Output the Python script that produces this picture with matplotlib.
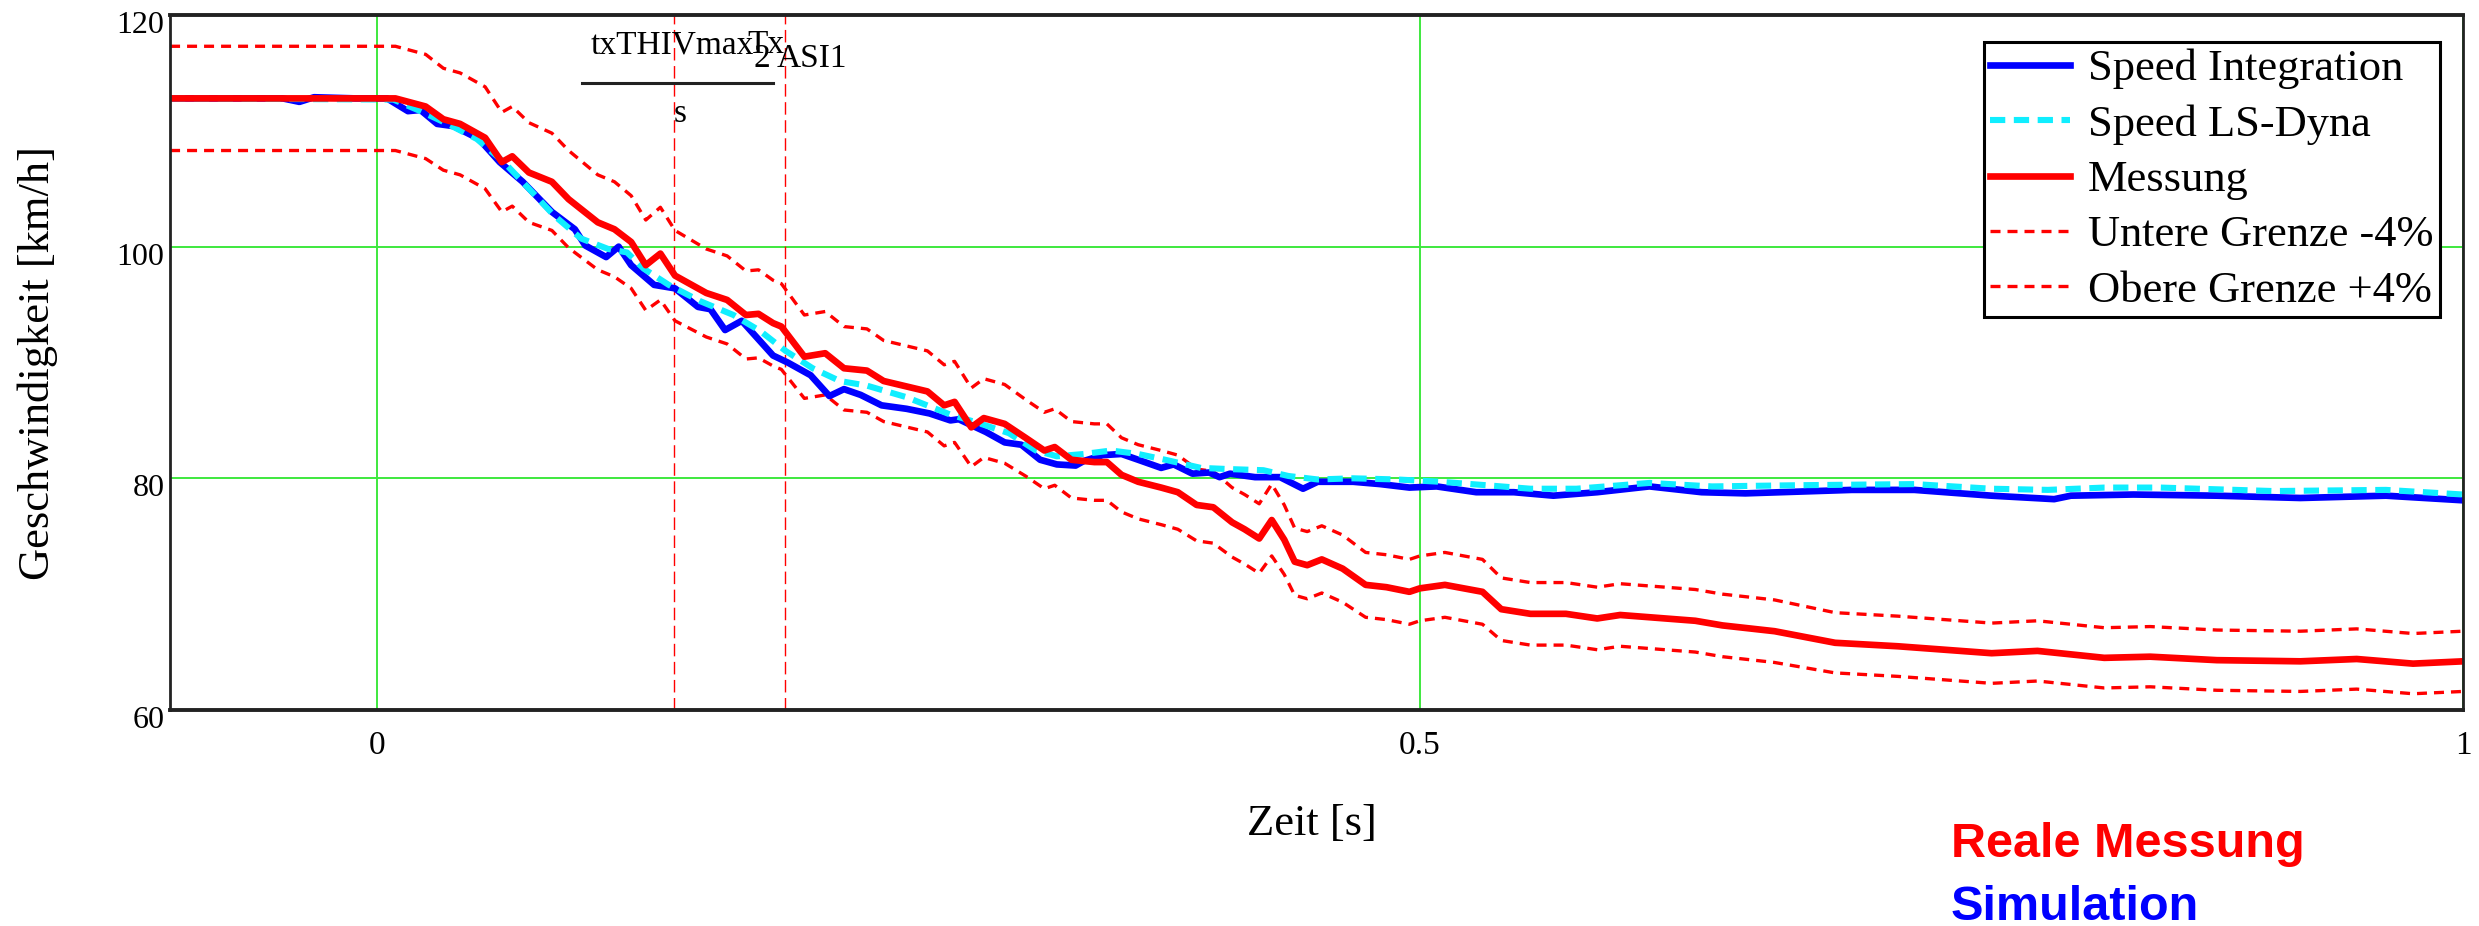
import matplotlib.pyplot as plt
import matplotlib.transforms as mtransforms
import numpy as np

# -----------------------------
# Daten
# -----------------------------
t_mess = [-0.099, 0.000, 0.009, 0.0235, 0.032, 0.040, 0.052, 0.060, 0.065, 0.073,
          0.084, 0.092, 0.106, 0.114, 0.122, 0.129, 0.136, 0.143, 0.158, 0.168,
          0.177, 0.183, 0.190, 0.194, 0.205, 0.215, 0.224, 0.235, 0.243, 0.264,
          0.272, 0.277, 0.285, 0.291, 0.301, 0.311, 0.320, 0.325, 0.333, 0.344,
          0.350, 0.357, 0.365, 0.376, 0.384, 0.393, 0.401, 0.410, 0.416, 0.423,
          0.429, 0.435, 0.440, 0.446, 0.453, 0.463, 0.474, 0.484, 0.495, 0.500,
          0.512, 0.530, 0.539, 0.553, 0.570, 0.585, 0.596, 0.632, 0.645, 0.670,
          0.699, 0.729, 0.774, 0.796, 0.828, 0.850, 0.882, 0.922, 0.949, 0.976,
          1.000]
v_mess = [112.8, 112.8, 112.8, 112.1, 111.0, 110.6, 109.4, 107.3, 107.8, 106.4,
          105.6, 104.1, 102.1, 101.5, 100.4, 98.4, 99.4, 97.5, 96.0, 95.4,
          94.1, 94.2, 93.4, 93.1, 90.5, 90.8, 89.5, 89.3, 88.4, 87.5,
          86.3, 86.6, 84.4, 85.2, 84.7, 83.5, 82.4, 82.7, 81.6, 81.4,
          81.4, 80.3, 79.7, 79.2, 78.8, 77.7, 77.5, 76.2, 75.6, 74.8,
          76.4, 74.7, 72.8, 72.5, 73.0, 72.2, 70.8, 70.6, 70.2, 70.5,
          70.8, 70.2, 68.7, 68.3, 68.3, 67.9, 68.2, 67.7, 67.3, 66.8,
          65.8, 65.5, 64.9, 65.1, 64.5, 64.6, 64.3, 64.2, 64.4, 64.0,
          64.2]
v_untere = [108.3, 108.3, 108.3, 107.6, 106.6, 106.2, 105.0, 103.0, 103.5, 102.1,
            101.4, 99.9, 98.0, 97.4, 96.4, 94.5, 95.4, 93.6, 92.2, 91.6,
            90.3, 90.4, 89.7, 89.4, 86.9, 87.2, 85.9, 85.7, 84.9, 84.0,
            82.8, 83.1, 81.0, 81.8, 81.3, 80.2, 79.1, 79.4, 78.3, 78.1,
            78.1, 77.1, 76.5, 76.0, 75.6, 74.6, 74.4, 73.2, 72.6, 71.8,
            73.3, 71.7, 69.9, 69.6, 70.1, 69.3, 68.0, 67.8, 67.4, 67.7,
            68.0, 67.4, 66.0, 65.6, 65.6, 65.2, 65.5, 65.0, 64.6, 64.1,
            63.2, 62.9, 62.3, 62.5, 61.9, 62.0, 61.7, 61.6, 61.8, 61.4,
            61.6]
v_obere = [117.3, 117.3, 117.3, 116.6, 115.4, 115.0, 113.8, 111.6, 112.1, 110.7,
           109.8, 108.3, 106.2, 105.6, 104.4, 102.3, 103.4, 101.4, 99.8, 99.2,
           97.9, 98.0, 97.1, 96.8, 94.1, 94.4, 93.1, 92.9, 91.9, 91.0,
           89.8, 90.1, 87.8, 88.6, 88.1, 86.8, 85.7, 86.0, 84.9, 84.7,
           84.7, 83.5, 82.9, 82.4, 82.0, 80.8, 80.6, 79.2, 78.6, 77.8,
           79.5, 77.7, 75.7, 75.4, 75.9, 75.1, 73.6, 73.4, 73.0, 73.3,
           73.6, 73.0, 71.4, 71.0, 71.0, 70.6, 70.9, 70.4, 70.0, 69.5,
           68.4, 68.1, 67.5, 67.7, 67.1, 67.2, 66.9, 66.8, 67.0, 66.6,
           66.8]

t_int = [-0.099, -0.045, -0.037, -0.030, -0.010, 0.005, 0.015, 0.021, 0.029, 0.037,
         0.049, 0.059, 0.070, 0.084, 0.095, 0.100, 0.110, 0.116, 0.122, 0.133,
         0.143, 0.154, 0.160, 0.167, 0.175, 0.190, 0.197, 0.208, 0.217, 0.224,
         0.232, 0.242, 0.254, 0.265, 0.275, 0.279, 0.292, 0.301, 0.309, 0.318,
         0.326, 0.335, 0.339, 0.348, 0.357, 0.365, 0.376, 0.382, 0.391, 0.399,
         0.404, 0.409, 0.421, 0.433, 0.444, 0.451, 0.468, 0.481, 0.495, 0.508,
         0.527, 0.545, 0.564, 0.585, 0.610, 0.635, 0.656, 0.707, 0.737, 0.774,
         0.804, 0.812, 0.842, 0.882, 0.922, 0.963, 1.000]
v_int = [112.8, 112.8, 112.5, 112.9, 112.8, 112.8, 111.7, 111.8, 110.6, 110.4,
         109.3, 107.3, 105.6, 103.0, 101.5, 100.1, 99.1, 100.0, 98.4, 96.7,
         96.4, 94.8, 94.6, 92.8, 93.6, 90.6, 90.0, 88.9, 87.1, 87.7,
         87.2, 86.3, 86.0, 85.6, 85.0, 85.1, 84.0, 83.1, 82.9, 81.6,
         81.2, 81.1, 81.5, 82.0, 82.1, 81.6, 80.9, 81.2, 80.4, 80.5,
         80.1, 80.4, 80.1, 80.1, 79.1, 79.7, 79.7, 79.5, 79.2, 79.3,
         78.8, 78.8, 78.5, 78.8, 79.3, 78.8, 78.7, 79.0, 79.0, 78.5,
         78.2, 78.5, 78.6, 78.5, 78.3, 78.5, 78.1]

t_dyna = [-0.099, 0.008, 0.021, 0.034, 0.048, 0.061, 0.072, 0.085, 0.098, 0.111,
          0.120, 0.128, 0.140, 0.155, 0.171, 0.184, 0.196, 0.209, 0.222, 0.235,
          0.254, 0.275, 0.288, 0.303, 0.316, 0.326, 0.339, 0.352, 0.365, 0.378,
          0.395, 0.408, 0.425, 0.437, 0.451, 0.468, 0.489, 0.510, 0.532, 0.553,
          0.575, 0.610, 0.640, 0.680, 0.737, 0.774, 0.801, 0.828, 0.855, 0.909,
          0.963, 1.000]
v_dyna = [112.8, 112.7, 111.7, 110.6, 109.3, 107.3, 105.2, 102.7, 100.7, 99.8,
          99.5, 98.1, 96.7, 95.3, 94.1, 92.7, 91.0, 89.5, 88.4, 88.0,
          87.0, 85.5, 84.8, 83.9, 82.4, 81.9, 82.1, 82.4, 82.1, 81.6,
          80.9, 80.8, 80.7, 80.2, 79.9, 80.0, 79.9, 79.7, 79.4, 79.1,
          79.1, 79.6, 79.3, 79.4, 79.5, 79.1, 79.0, 79.2, 79.2, 78.9,
          79.0, 78.6]

t_thiv = 0.1423
t_asi = 0.1955

x_ticks = [0, 0.5, 1]
x_ticklabels = ["0", "0.5", "1"]
y_ticks = [60, 80, 100, 120]

# -----------------------------
# Plot
# -----------------------------
serif = 'Liberation Serif'
fig = plt.figure(figsize=(24.79, 9.26), dpi=100, facecolor='white')
ax = fig.add_axes([0.0686, 0.2333, 0.9250, 0.7505])

ax.set_xlim(-0.099, 1.0)
ax.set_ylim(60, 120)

# Gitter
ax.set_xticks(x_ticks)
ax.set_xticklabels(x_ticklabels)
ax.set_yticks(y_ticks)
ax.grid(True, color='#3ee83e', linewidth=1.4, zorder=0)
ax.tick_params(length=0)
ax.tick_params(axis='y', pad=4)
ax.tick_params(axis='x', pad=15)
for lab in ax.get_yticklabels():
    lab.set_fontfamily(serif)
    lab.set_fontsize(23)
for lab in ax.get_xticklabels():
    lab.set_fontfamily(serif)
    lab.set_fontsize(24)
off = mtransforms.ScaledTranslation(0, -7 / 100, fig.dpi_scale_trans)
for lab in ax.get_yticklabels():
    lab.set_transform(lab.get_transform() + off)

# Grenzen
l_unt, = ax.plot(t_mess, v_untere, color='red', linewidth=2.4, dashes=(3, 2.1), zorder=3,
                 label='Untere Grenze -4%')
l_obe, = ax.plot(t_mess, v_obere, color='red', linewidth=2.4, dashes=(3, 2.1), zorder=3,
                 label='Obere Grenze +4%')

# THIV / ASI Zeitpunkte
ax.axvline(t_thiv, color='red', linewidth=1.0, dashes=(9, 4), zorder=2)
ax.axvline(t_asi, color='red', linewidth=1.0, dashes=(9, 4), zorder=2)

l_int, = ax.plot(t_int, v_int, color='#0000ff', linewidth=4.8, zorder=4,
                 label='Speed Integration')
l_dyna, = ax.plot(t_dyna, v_dyna, color='#10eeff', linewidth=4.4, dashes=(2.5, 1.4),
                  zorder=5, label='Speed LS-Dyna')
l_mess, = ax.plot(t_mess, v_mess, color='#ff0000', linewidth=4.8, zorder=6,
                  label='Messung')

handles = [l_int, l_dyna, l_mess, l_unt, l_obe]
leg = ax.legend(handles, [h.get_label() for h in handles],
                loc='upper right', bbox_to_anchor=(0.990, 0.961), borderaxespad=0,
                prop={'family': serif, 'size': 32}, frameon=True, fancybox=False,
                edgecolor='black', framealpha=1, handlelength=1.8, handletextpad=0.4,
                labelspacing=0.34, borderpad=0.15)
leg.get_frame().set_linewidth(2.2)
leg.set_zorder(12)

# Rahmen
for side in ['top', 'bottom']:
    ax.spines[side].set_linewidth(2.8)
for side in ['left', 'right']:
    ax.spines[side].set_linewidth(2.0)
for s in ax.spines.values():
    s.set_color('#222222')
    s.set_zorder(10)

# Mathcad Platzhalter-Beschriftung
ax.text(0.1832, 0.9453, "txTHIVmax", transform=ax.transAxes, family=serif,
        fontsize=24, ha='left', va='baseline')
ax.text(0.2516, 0.9453, "Tx", transform=ax.transAxes, family=serif,
        fontsize=24, ha='left', va='baseline')
ax.text(0.2543, 0.9252, "2", transform=ax.transAxes, family=serif,
        fontsize=24, ha='left', va='baseline')
ax.text(0.2647, 0.9252, "ASI1", transform=ax.transAxes, family=serif,
        fontsize=24, ha='left', va='baseline')
ax.plot([0.1797, 0.263], [0.902, 0.902], transform=ax.transAxes, color='#222222',
        linewidth=2.2, zorder=7)
ax.text(0.2224, 0.846, "s", transform=ax.transAxes, family=serif,
        fontsize=24, ha='center', va='baseline')

# Achsenbeschriftungen
fig.text(38 / 2479, 1 - 363 / 926, "Geschwindigkeit [km/h]", rotation=90,
         ha='center', va='center', family=serif, fontsize=32)
fig.text(1312 / 2479, 1 - 824 / 926, "Zeit [s]", ha='center', va='center',
         family=serif, fontsize=32)

# Hinweise unten rechts
fig.text(1951 / 2479, 1 - 857 / 926, "Reale Messung", color='#ff0000',
         family='Liberation Sans', weight='bold', fontsize=35, ha='left', va='baseline')
fig.text(1951 / 2479, 1 - 920 / 926, "Simulation", color='#0000ff',
         family='Liberation Sans', weight='bold', fontsize=35, ha='left', va='baseline')

fig.savefig('out.png', dpi=100, facecolor='white')
